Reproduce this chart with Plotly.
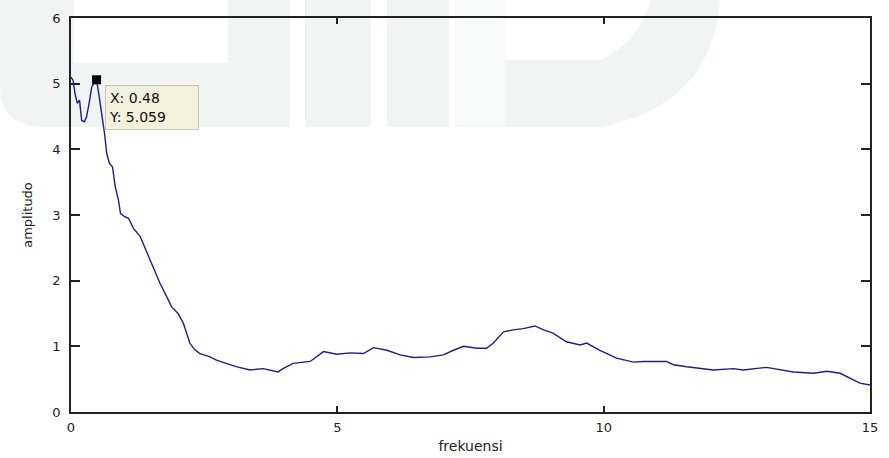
import plotly.graph_objects as go

# ---- data ----
frekuensi = [0.0, 0.04, 0.075, 0.12, 0.16, 0.2, 0.25, 0.29, 0.34, 0.39, 0.45, 0.48, 0.53, 0.6, 0.63,
             0.67, 0.72, 0.78, 0.83, 0.89, 0.93, 1.0, 1.08, 1.17, 1.30, 1.42, 1.54, 1.67, 1.80, 1.89,
             2.01, 2.11, 2.23, 2.32, 2.42, 2.61, 2.73, 2.9, 3.1, 3.36, 3.61, 3.89, 3.98, 4.17, 4.49,
             4.74, 4.99, 5.24, 5.49, 5.68, 5.93, 6.18, 6.43, 6.74, 6.99, 7.18, 7.37, 7.62, 7.80, 7.93,
             8.12, 8.30, 8.49, 8.71, 8.87, 9.05, 9.30, 9.56, 9.68, 9.93, 10.24, 10.56, 10.74, 11.18,
             11.31, 11.56, 11.81, 12.06, 12.43, 12.62, 13.06, 13.31, 13.56, 13.94, 14.19, 14.44, 14.56,
             14.81, 15.0]
amplitudo = [5.10, 5.05, 4.85, 4.70, 4.75, 4.44, 4.42, 4.49, 4.70, 4.95, 5.03, 5.059, 4.80, 4.44, 4.24,
             3.94, 3.79, 3.73, 3.43, 3.23, 3.02, 2.98, 2.95, 2.80, 2.67, 2.44, 2.21, 1.96, 1.75, 1.60,
             1.50, 1.35, 1.05, 0.95, 0.89, 0.84, 0.79, 0.74, 0.69, 0.64, 0.66, 0.61, 0.66, 0.74, 0.77,
             0.92, 0.88, 0.90, 0.89, 0.98, 0.94, 0.87, 0.83, 0.84, 0.87, 0.94, 1.00, 0.97, 0.97, 1.05,
             1.22, 1.25, 1.27, 1.31, 1.25, 1.20, 1.07, 1.02, 1.05, 0.94, 0.82, 0.76, 0.77, 0.77,
             0.72, 0.69, 0.66, 0.64, 0.66, 0.64, 0.68, 0.65, 0.61, 0.59, 0.62, 0.59, 0.54,
             0.44, 0.41]
x_ticks = [0, 5, 10, 15]
x_tick_labels = ["0", "5", "10", "15"]
y_ticks = [0, 1, 2, 3, 4, 5, 6]
tip_x = 0.48
tip_y = 5.059

W, H = 889, 458
L, R, T, B = 71, 19, 18, 46
PW, PH = W - L - R, H - T - B


def px(xp):
    return (xp - L) / PW


def py(yp):
    return (H - B - yp) / PH


def P(x, y):
    return f"{px(x):.5f},{py(y):.5f}"


fig = go.Figure()

fig.add_trace(go.Scatter(
    x=frekuensi, y=amplitudo, mode="lines",
    line=dict(color="#1f1f82", width=1.4),
    hoverinfo="skip", showlegend=False,
))

# data tip marker
fig.add_trace(go.Scatter(
    x=[tip_x], y=[tip_y], mode="markers",
    marker=dict(symbol="square", size=9, color="black"),
    hoverinfo="skip", showlegend=False,
))

# ---- faint watermark (pixel coords converted to paper) ----
wm = "#f1f4f2"
shapes = []
left_shape = (f"M {P(0,0)} L {P(74,0)} L {P(74,63)} L {P(228,63)} L {P(228,0)} L {P(290,0)} "
              f"L {P(290,127)} L {P(45,127)} Q {P(0,127)} {P(0,85)} Z")
shapes.append(dict(type="path", path=left_shape, xref="paper", yref="paper",
                   fillcolor=wm, line=dict(width=0), layer="below"))
for x0, x1 in [(305, 371), (387, 449)]:
    shapes.append(dict(type="rect", xref="paper", yref="paper",
                       x0=px(x0), x1=px(x1), y0=py(127), y1=py(0),
                       fillcolor=wm, line=dict(width=0), layer="below"))
shapes.append(dict(type="rect", xref="paper", yref="paper",
                   x0=px(455), x1=px(505), y0=py(127), y1=py(0),
                   fillcolor="#f8faf9", line=dict(width=0), layer="below"))
right_shape = (f"M {P(505,60)} L {P(601,60)} Q {P(640,40)} {P(651,0)} L {P(720,0)} "
               f"Q {P(712,105)} {P(601,127)} L {P(505,127)} Z")
shapes.append(dict(type="path", path=right_shape, xref="paper", yref="paper",
                   fillcolor=wm, line=dict(width=0), layer="below"))
fig.update_layout(shapes=shapes)

# data tip box
fig.add_annotation(
    x=tip_x, y=tip_y, xref="x", yref="y",
    text="X: 0.48<br>Y: 5.059", showarrow=False,
    xanchor="left", yanchor="top", align="left",
    xshift=8, yshift=-5,
    width=86, height=37,
    bgcolor="#f2f2dc", bordercolor="#c8c8b4", borderwidth=1, borderpad=3,
    font=dict(family="DejaVu Sans", size=14, color="#111111"),
)

axis_font = dict(family="DejaVu Sans", size=13, color="#222222")

fig.update_xaxes(
    range=[0, 15], tickvals=x_ticks, ticktext=x_tick_labels,
    ticks="inside", ticklen=6, tickwidth=1.5, tickcolor="#222222",
    showline=True, linecolor="#222222", linewidth=1.5, mirror="ticks",
    showgrid=False, zeroline=False, tickfont=axis_font, ticklabelstandoff=3,
    automargin=False,
    title=dict(text="frekuensi", font=dict(family="DejaVu Sans", size=14, color="#222222"), standoff=7),
)
fig.update_yaxes(
    range=[0, 6], tickvals=y_ticks,
    ticks="inside", ticklen=9, tickwidth=1.5, tickcolor="#222222",
    showline=True, linecolor="#222222", linewidth=1.5, mirror="ticks",
    showgrid=False, zeroline=False, tickfont=axis_font, ticklabelstandoff=6,
    automargin=False,
    title=dict(text="amplitudo", font=dict(family="DejaVu Sans", size=13, color="#222222"), standoff=17),
)

fig.update_layout(
    width=W, height=H,
    margin=dict(l=L, r=R, t=T, b=B),
    paper_bgcolor="white", plot_bgcolor="rgba(0,0,0,0)",
    showlegend=False,
)

fig.write_html("out.html")
